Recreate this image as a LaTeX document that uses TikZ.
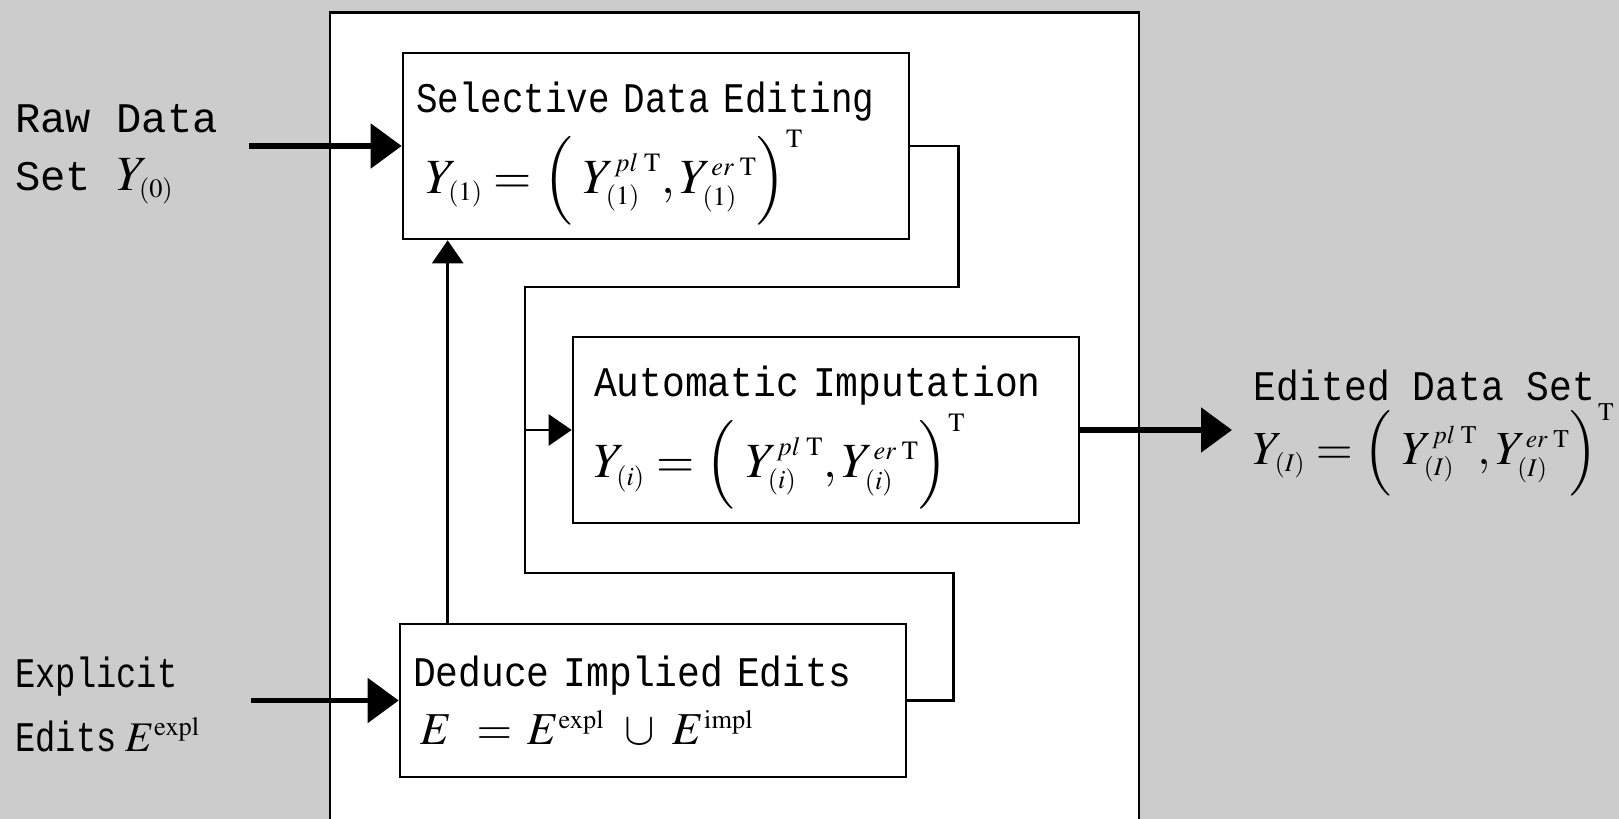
\documentclass[tikz,border=0pt]{standalone}
\usepackage{amsmath}
\usepackage{mathptmx}
\usepackage[no-math]{fontspec}
\usetikzlibrary{positioning, arrows.meta}
\newfontfamily\boxfont[FakeStretch=0.9]{Liberation Mono}
\newfontfamily\tightfont[FakeStretch=0.85]{Liberation Mono}
\newfontfamily\widefont{Liberation Mono}
\newfontfamily\narrowfont[FakeStretch=0.8]{Liberation Mono}
\definecolor{BgGray}{HTML}{CCCCCC}
\DeclareMathSizes{28}{28}{15}{11}
\DeclareMathSizes{27}{27}{14.5}{11}
\DeclareMathSizes{26}{26}{15}{11}
\DeclareMathSizes{24}{24}{15}{11}
\newcommand{\mathbig}[1]{{\fontsize{28}{34}\selectfont$#1$}}
\newcommand{\mathout}[1]{{\fontsize{27}{34}\selectfont$#1$}}
\newcommand{\mathmid}[1]{{\fontsize{26}{31}\selectfont$#1$}}
\newcommand{\Yset}[1]{Y_{(#1)} = \Bigl(\; Y^{pl\;\mathrm{T}}_{(#1)}, Y^{er\;\mathrm{T}}_{(#1)} \Bigr)^{\mathrm{T}}}
\newcommand{\topstrut}{\rule{0pt}{26pt}}

\begin{document}
\begin{tikzpicture}[
    every node/.style={font=\boxfont\fontsize{24}{31}\selectfont},
    box/.style={draw, line width=1.5pt, fill=white, align=left, text width=9.6cm,
                inner xsep=0.26cm, minimum height=3.72cm},
    lbl/.style={anchor=west, align=left, inner sep=0pt},
    wire/.style={line width=1.5pt},
    arr/.style={-{Triangle[length=0.46cm, width=0.62cm]}, wire},
    bigarr/.style={-{Triangle[length=0.62cm, width=0.88cm]}, line width=3.1pt},
  ]
    \useasboundingbox (0,0) rectangle (32.38,16.38);
    \fill[BgGray] (0,0) rectangle (32.38,16.38);
    \draw[wire, fill=white] (6.60,-0.3) rectangle (22.78,16.13);

    \node[box, font=\tightfont\fontsize{24}{31}\selectfont] (sel) at (13.12,13.46)
      {\topstrut Selective Data Editing\\[4pt]\hspace*{0.2cm}\mathbig{\Yset{1}}};
    \node[box] (auto) at (16.52,7.78)
      {\topstrut\hspace*{0.16cm}Automatic Imputation\\[4pt]\hspace*{0.16cm}\mathbig{\Yset{i}}};
    \node[box, minimum height=3.06cm] (ded) at (13.06,2.37)
      {Deduce Implied Edits\\[2pt]\hspace*{0.14cm}\mathmid{E\mkern10mu{=}\mkern6mu E^{\mathrm{expl}}
       \mkern8mu{\cup}\mkern7mu E^{\mathrm{impl}}}};

    \node[lbl, font=\widefont\fontsize{24}{31}\selectfont] (raw) at (0.30,13.29)
      {Raw Data\\[2pt]Set \mathbig{Y_{(0)}}};
    \node[lbl, font=\narrowfont\fontsize{24}{31}\selectfont] (expl) at (0.30,2.29)
      {Explicit\\[5pt]Edits\hspace{5pt}$E^{\mathrm{expl}}$};
    \node[lbl] (edited) at (25.06,7.72)
      {Edited Data Set\\[0pt]\mathout{\Yset{I}}};

    \coordinate (rawin)  at (4.98,13.46);
    \coordinate (explin) at (5.02,2.37);
    \coordinate (out)    at (24.64,7.78);
    \coordinate (join)   at (10.50,7.78);
    \coordinate (up)     at ([xshift=0.98cm]ded.north west);

    \draw[bigarr] (rawin) -- (sel.west);
    \draw[bigarr] (explin) -- (ded.west);
    \draw[bigarr] (auto.east) -- (out);
    \draw[wire] (sel.east) -- ++(0.96,0) |- (10.50,10.64) -- (join);
    \draw[wire] (ded.east) -- ++(0.92,0) |- (10.50,4.92) -- (join);
    \draw[arr] (join) -- (auto.west);
    \draw[arr] (up) -- (up |- sel.south);
  \end{tikzpicture}
\end{document}
